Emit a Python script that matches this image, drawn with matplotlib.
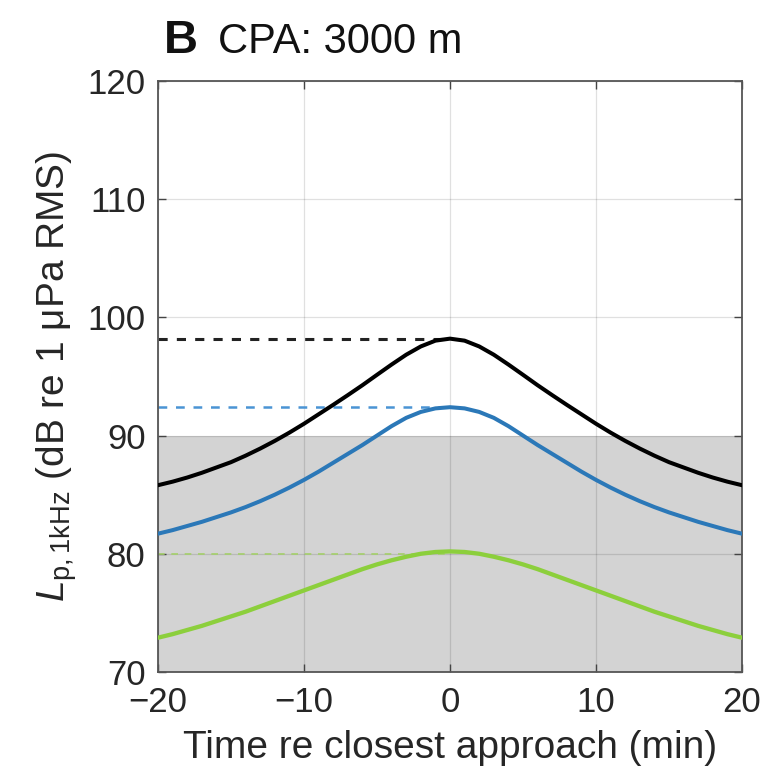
import numpy as np
import matplotlib.pyplot as plt

plt.rcParams['font.family'] = ['Liberation Sans', 'DejaVu Sans']
plt.rcParams['mathtext.fontset'] = 'custom'
plt.rcParams['mathtext.rm'] = 'Liberation Sans'
plt.rcParams['mathtext.it'] = 'Liberation Sans:italic'

# time re closest approach (min)
t_min = np.arange(-20, 21, 1)

# received level (dB re 1 uPa RMS)
level_black = [85.8, 86.1, 86.45, 86.85, 87.3, 87.75, 88.3, 88.9, 89.55, 90.25,
               91.0, 91.8, 92.6, 93.42, 94.26, 95.14, 96.01, 96.84, 97.54, 98.03,
               98.2,
               98.03, 97.54, 96.84, 96.01, 95.14, 94.26, 93.42, 92.6, 91.8, 91.0,
               90.25, 89.55, 88.9, 88.3, 87.75, 87.3, 86.85, 86.45, 86.1, 85.8]
level_blue = [81.7, 82.0, 82.35, 82.7, 83.1, 83.5, 83.95, 84.45, 85.0, 85.6,
              86.25, 86.95, 87.7, 88.45, 89.2, 90.0, 90.8, 91.5, 92.0, 92.3,
              92.4,
              92.3, 92.0, 91.5, 90.8, 90.0, 89.2, 88.45, 87.7, 86.95, 86.25,
              85.6, 85.0, 84.45, 83.95, 83.5, 83.1, 82.7, 82.35, 82.0, 81.7]
level_green = [72.9, 73.2, 73.55, 73.9, 74.3, 74.7, 75.1, 75.55, 76.0, 76.45,
               76.9, 77.35, 77.8, 78.25, 78.7, 79.1, 79.45, 79.75, 80.0, 80.15,
               80.2,
               80.15, 80.0, 79.75, 79.45, 79.1, 78.7, 78.25, 77.8, 77.35, 76.9,
               76.45, 76.0, 75.55, 75.1, 74.7, 74.3, 73.9, 73.55, 73.2, 72.9]

# dashed peak markers, drawn from -20 to CPA
peak_black = 98.2
peak_blue = 92.4
peak_green = 80.0

# shaded band (below threshold)
shade_low, shade_high = 70, 90

xticks = [-20, -10, 0, 10, 20]
yticks = [70, 80, 90, 100, 110, 120]

fig = plt.figure(figsize=(7.73, 7.83), dpi=100)
ax = fig.add_axes([0.2044, 0.1418, 0.7555, 0.7548])

ax.axhspan(shade_low, shade_high, color='#d3d3d3', lw=0, zorder=1)

ax.plot([-20, 0], [peak_black, peak_black], ls=(0, (3, 3)), color='#222222', lw=2.2)
ax.plot([-20, 0], [peak_blue, peak_blue], ls=(0, (3.5, 3.5)), color='#4a94d4', lw=1.8)
ax.plot([-20, 0], [peak_green, peak_green], ls=(0, (4, 4)), color='#a4cf6a', lw=1.2)

ax.plot(t_min, level_black, color='black', lw=2.9, zorder=3)
ax.plot(t_min, level_blue, color='#2b78b8', lw=2.9, zorder=3)
ax.plot(t_min, level_green, color='#8ccf3c', lw=3.1, zorder=3)

ax.set_xlim(-20, 20)
ax.set_ylim(70, 120)
ax.set_xticks(xticks)
ax.set_yticks(yticks)
ax.set_xticklabels(['\u221220', '\u221210', '0', '10', '20'])
ax.grid(True, color='black', alpha=0.12, lw=0.9)

ax.tick_params(direction='in', length=6, width=1.0, color='#444444',
               labelsize=25, top=True, right=True, labelcolor='#262626')
ax.tick_params(axis='y', pad=9)
ax.tick_params(axis='x', pad=10)
for s in ax.spines.values():
    s.set_color('#555555')
    s.set_linewidth(1.3)

ax.set_xlabel('Time re closest approach (min)', fontsize=28, color='#262626', labelpad=8)
ax.set_ylabel('$L_{\\rm p,1kHz}$ (dB re 1 \u03bcPa RMS)',
              fontsize=28, color='#262626', labelpad=6)

fig.text(0.212, 0.932, 'B', fontsize=34, fontweight='bold', color='#111111', va='baseline')
fig.text(0.282, 0.932, 'CPA: 3000 m', fontsize=30, color='#111111', va='baseline')

fig.savefig('out.png', dpi=100)
